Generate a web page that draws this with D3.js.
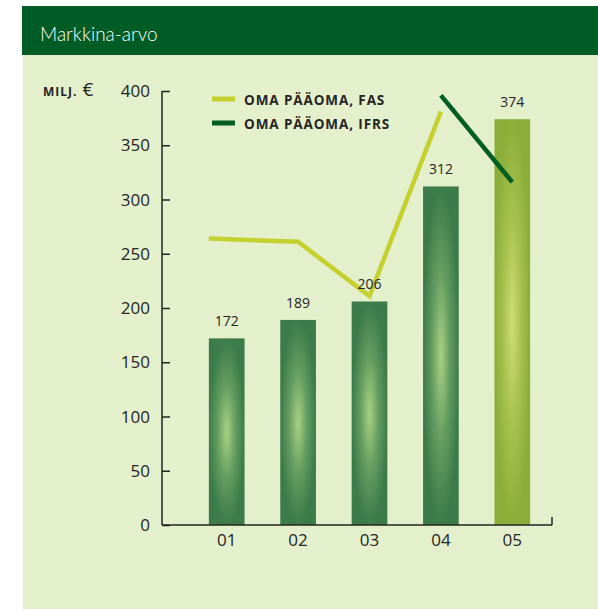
<!DOCTYPE html>
<html>
<head>
<meta charset="utf-8">
<script src="https://cdn.jsdelivr.net/npm/d3@7"></script>
<style>
  body { margin: 0; background: #fff; }
  text { font-family: "Open Sans", "Noto Sans", sans-serif; fill: #252525; }
</style>
</head>
<body>
<div id="chart"></div>
<script>
// Data
const years = ['01', '02', '03', '04', '05'];
const marketValue = [172, 189, 206, 312, 374];
const fasYears = ['01', '02', '03', '04'];
const fasValues = [264, 261, 211, 381];
const ifrsYears = ['04', '05'];
const ifrsValues = [396, 316];
const yTicks = [0, 50, 100, 150, 200, 250, 300, 350, 400];
const legendLabels = ['OMA PÄÄOMA, FAS', 'OMA PÄÄOMA, IFRS'];

const width = 598, height = 611;

const svg = d3.select('#chart').append('svg')
  .attr('width', width)
  .attr('height', height);

// Gradients for bars
const defs = svg.append('defs');
const gradDark = defs.append('radialGradient').attr('id', 'barDark')
  .attr('cx', '50%').attr('cy', '50%').attr('r', '50%');
gradDark.append('stop').attr('offset', '0%').attr('stop-color', '#a8d182');
gradDark.append('stop').attr('offset', '50%').attr('stop-color', '#659d60');
gradDark.append('stop').attr('offset', '100%').attr('stop-color', '#3b7c4a');

const gradLight = defs.append('radialGradient').attr('id', 'barLight')
  .attr('cx', '50%').attr('cy', '50%').attr('r', '50%');
gradLight.append('stop').attr('offset', '0%').attr('stop-color', '#cddd74');
gradLight.append('stop').attr('offset', '50%').attr('stop-color', '#a8c14e');
gradLight.append('stop').attr('offset', '100%').attr('stop-color', '#8bae39');

// Panel + header
svg.append('rect').attr('x', 23).attr('y', 55).attr('width', width - 23).attr('height', 554)
  .attr('fill', '#e4efcb');
svg.append('rect').attr('x', 22).attr('y', 6).attr('width', width - 22).attr('height', 49)
  .attr('fill', '#005c25');
svg.append('text')
  .attr('x', 40).attr('y', 41)
  .style('font-family', 'Lato, "Open Sans", sans-serif')
  .style('font-weight', 300)
  .style('font-size', '19px')
  .style('fill', '#fff')
  .text('Markkina-arvo');

// Scales
const x = d3.scaleBand().domain(years).range([191, 548]).paddingInner(0.5).paddingOuter(0.25);
const y = d3.scaleLinear().domain([0, 400]).range([525, 91]);
const axisLeft = 162, axisRight = 552;

// Bars
svg.append('g').selectAll('rect')
  .data(years)
  .enter().append('rect')
  .attr('x', d => x(d))
  .attr('y', (d, i) => y(marketValue[i]))
  .attr('width', x.bandwidth())
  .attr('height', (d, i) => y(0) - y(marketValue[i]))
  .attr('fill', (d, i) => i === years.length - 1 ? 'url(#barLight)' : 'url(#barDark)');

// Lines (FAS line starts at left edge of first bar)
const fasX = (d, i) => i === 0 ? x(d) : x(d) + x.bandwidth() / 2;
const fasLine = d3.line()
  .x((d, i) => fasX(d, i))
  .y((d, i) => y(fasValues[i]));
svg.append('path')
  .attr('d', fasLine(fasYears))
  .attr('fill', 'none')
  .attr('stroke', '#c5d02f')
  .attr('stroke-width', 4.5)
  .attr('stroke-linejoin', 'miter');

const ifrsLine = d3.line()
  .x(d => x(d) + x.bandwidth() / 2)
  .y((d, i) => y(ifrsValues[i]));
svg.append('path')
  .attr('d', ifrsLine(ifrsYears))
  .attr('fill', 'none')
  .attr('stroke', '#005e23')
  .attr('stroke-width', 4.5);

// Value labels (on top of the lines)
svg.append('g').selectAll('text')
  .data(years)
  .enter().append('text')
  .attr('x', d => x(d) + x.bandwidth() / 2)
  .attr('y', (d, i) => y(marketValue[i]) - 12)
  .attr('text-anchor', 'middle')
  .style('font-size', '14px')
  .text((d, i) => marketValue[i]);

// Y axis
const yAxis = d3.axisRight(y).tickValues(yTicks).tickSize(8).tickFormat('');
const gy = svg.append('g').attr('transform', `translate(${axisLeft},0)`).call(yAxis);
gy.select('.domain').remove();
gy.selectAll('.tick line').attr('stroke', '#252525').attr('stroke-width', 1.5);
svg.append('line')
  .attr('x1', axisLeft).attr('x2', axisLeft)
  .attr('y1', y(400)).attr('y2', y(0))
  .attr('stroke', '#252525').attr('stroke-width', 1.5);

svg.append('g').selectAll('text')
  .data(yTicks)
  .enter().append('text')
  .attr('x', 150)
  .attr('y', d => y(d) + 6)
  .attr('text-anchor', 'end')
  .style('font-size', '17px')
  .text(d => d);

// X axis
svg.append('line')
  .attr('x1', axisLeft).attr('x2', axisRight)
  .attr('y1', y(0)).attr('y2', y(0))
  .attr('stroke', '#252525').attr('stroke-width', 1.5);
svg.append('line')
  .attr('x1', axisRight).attr('x2', axisRight)
  .attr('y1', y(0) - 8).attr('y2', y(0))
  .attr('stroke', '#252525').attr('stroke-width', 1.5);

svg.append('g').selectAll('text')
  .data(years)
  .enter().append('text')
  .attr('x', d => x(d) + x.bandwidth() / 2)
  .attr('y', 546)
  .attr('text-anchor', 'middle')
  .style('font-size', '17px')
  .text(d => d);

// Unit label
const unit = svg.append('text').attr('x', 43).attr('y', 96);
unit.append('tspan').style('font-size', '12px').style('font-weight', 700)
  .style('letter-spacing', '1px').text('MILJ.');
unit.append('tspan').attr('dx', 5).style('font-size', '19px').text('€');

// Legend
const legendColors = ['#c5d02f', '#005e23'];
const legend = svg.append('g').selectAll('g')
  .data(legendLabels)
  .enter().append('g')
  .attr('transform', (d, i) => `translate(212,${99 + i * 24})`);
legend.append('line')
  .attr('x1', 0).attr('x2', 23)
  .attr('stroke', (d, i) => legendColors[i])
  .attr('stroke-width', 5);
legend.append('text')
  .attr('x', 32).attr('y', 6)
  .style('font-size', '13.5px')
  .style('font-weight', 700)
  .style('letter-spacing', '0.9px')
  .text(d => d);
</script>
</body>
</html>
